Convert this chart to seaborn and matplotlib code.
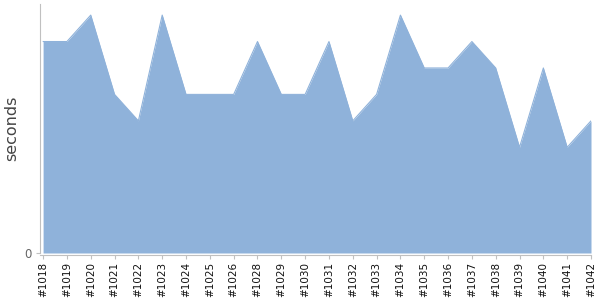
import matplotlib
matplotlib.use("Agg")
import matplotlib.pyplot as plt
import seaborn as sns
import pandas as pd

builds = ["#1018", "#1019", "#1020", "#1021", "#1022", "#1023", "#1024", "#1025",
          "#1026", "#1028", "#1029", "#1030", "#1031", "#1032", "#1033", "#1034",
          "#1035", "#1036", "#1037", "#1038", "#1039", "#1040", "#1041", "#1042"]
seconds = [8, 8, 9, 6, 5, 9, 6, 6, 6, 8, 6, 6, 8, 5, 6, 9, 7, 7, 8, 7, 4, 7, 4, 5]

df = pd.DataFrame({"build": builds, "seconds": seconds, "pos": range(len(builds))})

sns.set_style("white")
fig = plt.figure(figsize=(6, 3), dpi=100)
ax = fig.add_axes([40/600, 47/300, 551/600, 249/300])

color = "#8fb2da"
ax.fill_between(df["pos"], 0, df["seconds"], color=color, linewidth=0)
sns.lineplot(data=df, x="pos", y="seconds", ax=ax, color=color, linewidth=0.8)

ax.set_xlim(-0.13, len(builds) - 1)
ax.set_ylim(0, 9.42)
ax.set_xticks(df["pos"])
ax.set_xticklabels(builds)
ax.set_yticks([0])
ax.set_yticklabels(["0"])
ax.set_xlabel("")
ax.set_ylabel("seconds", fontsize=11.5, color="#444")
ax.yaxis.set_label_coords(-0.037, 0.5)

for s in ["top", "right"]:
    ax.spines[s].set_visible(False)
for s in ["left", "bottom"]:
    ax.spines[s].set_color("#c0c0c0")
    ax.spines[s].set_linewidth(0.8)
ax.spines["bottom"].set_position(("outward", 1.5))
ax.tick_params(axis="x", length=3, color="#c0c0c0", pad=2, bottom=True,
               labelrotation=90, labelsize=7.5, labelcolor="#111")
ax.tick_params(axis="y", length=3, color="#c0c0c0", pad=3, left=True,
               labelsize=8.5, labelcolor="#666")

fig.savefig("out.png", dpi=100)
